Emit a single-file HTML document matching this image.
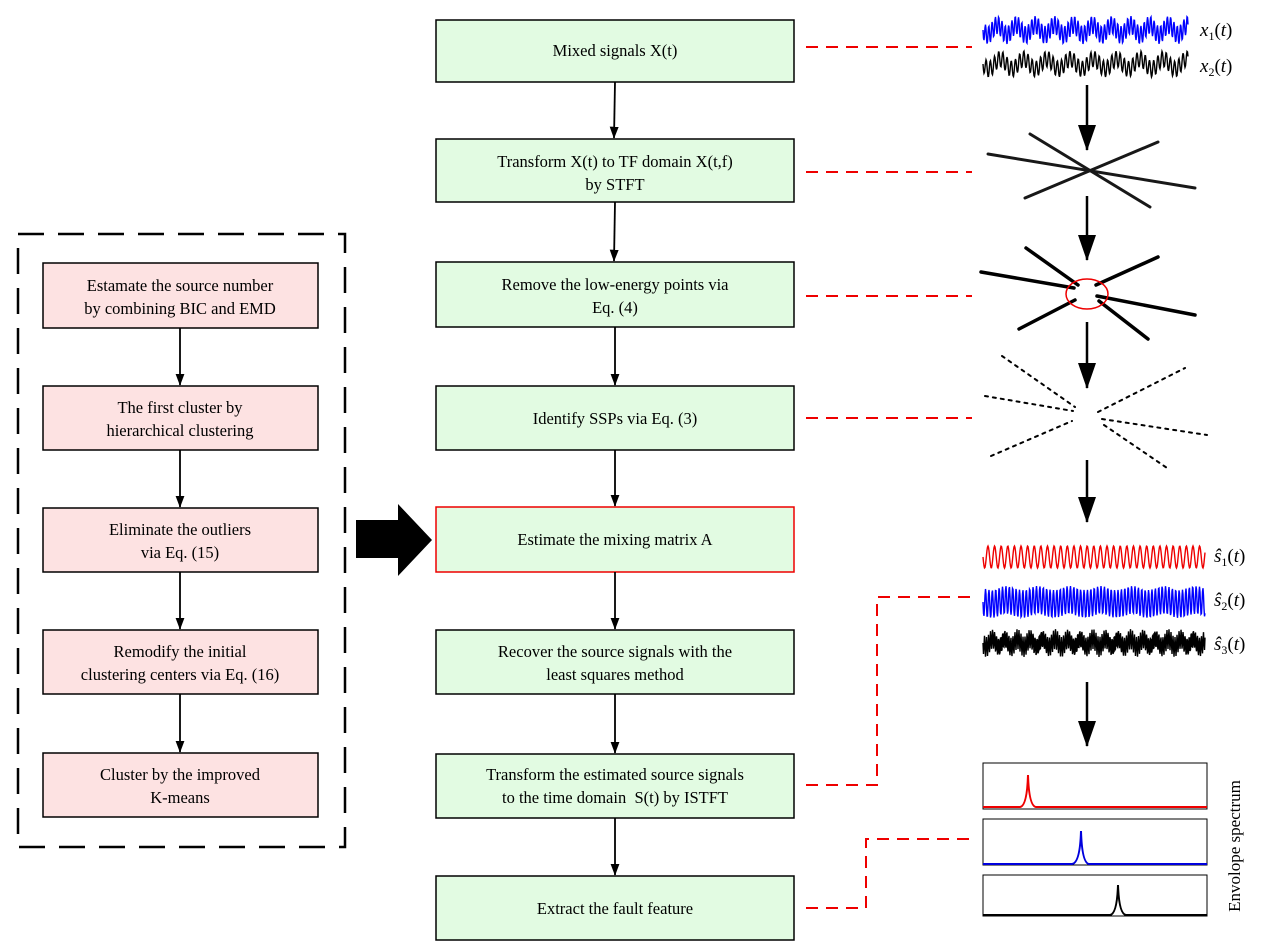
<!DOCTYPE html>
<html><head><meta charset="utf-8"><style>
body{margin:0;background:#fff;}
svg{display:block;font-family:"Liberation Serif",serif;}
</style></head><body>
<svg id="s" width="1263" height="951" viewBox="0 0 1263 951" xmlns="http://www.w3.org/2000/svg">
<defs><marker id="ah" markerWidth="12" markerHeight="16" refX="15" refY="6" orient="auto" markerUnits="userSpaceOnUse" viewBox="0 0 16 12"><path d="M0,0 L16,6 L0,12 z" fill="#000"/></marker>
<marker id="bh" markerWidth="26" markerHeight="18" refX="25" refY="9" orient="auto" markerUnits="userSpaceOnUse" viewBox="0 0 26 18"><path d="M0,0 L26,9 L0,18 z" fill="#000"/></marker></defs>
<g font-size="16.5" text-anchor="middle" fill="#000">
<g fill="#e2fbe2" stroke="#000" stroke-width="1.5">
<rect x="436" y="20" width="358" height="62"/>
<rect x="436" y="139" width="358" height="63"/>
<rect x="436" y="262" width="358" height="65"/>
<rect x="436" y="386" width="358" height="64"/>
<rect x="436" y="507" width="358" height="65" stroke="#e00"/>
<rect x="436" y="630" width="358" height="64"/>
<rect x="436" y="754" width="358" height="64"/>
<rect x="436" y="876" width="358" height="64"/>
</g>
<text x="615" y="56">Mixed signals X(t)</text>
<text x="615" y="167">Transform X(t) to TF domain X(t,f)</text><text x="615" y="190">by STFT</text>
<text x="615" y="290">Remove the low-energy points via</text><text x="615" y="313">Eq. (4)</text>
<text x="615" y="424">Identify SSPs via Eq. (3)</text>
<text x="615" y="545">Estimate the mixing matrix A</text>
<text x="615" y="657">Recover the source signals with the</text><text x="615" y="680">least squares method</text>
<text x="615" y="780">Transform the estimated source signals</text><text x="615" y="803">to the time domain&#160; S(t) by ISTFT</text>
<text x="615" y="914">Extract the fault feature</text>
<g fill="#fde2e2" stroke="#000" stroke-width="1.5">
<rect x="43" y="263" width="275" height="65"/>
<rect x="43" y="386" width="275" height="64"/>
<rect x="43" y="508" width="275" height="64"/>
<rect x="43" y="630" width="275" height="64"/>
<rect x="43" y="753" width="275" height="64"/>
</g>
<text x="180" y="291">Estamate the source number</text><text x="180" y="314">by combining BIC and EMD</text>
<text x="180" y="413">The first cluster by</text><text x="180" y="436">hierarchical clustering</text>
<text x="180" y="535">Eliminate the outliers</text><text x="180" y="558">via Eq. (15)</text>
<text x="180" y="657">Remodify the initial</text><text x="180" y="680">clustering centers via Eq. (16)</text>
<text x="180" y="780">Cluster by the improved</text><text x="180" y="803">K-means</text>
</g>
<rect x="18" y="234" width="327" height="613" fill="none" stroke="#000" stroke-width="2.5" stroke-dasharray="26,14"/>
<path d="M356,520 H398 V504 L432,540 L398,576 V558 H356 z" fill="#000"/>
<g stroke="#000" stroke-width="1.8" marker-end="url(#ah)">
<line x1="615" y1="82" x2="614" y2="138"/><line x1="615" y1="202" x2="614" y2="261"/>
<line x1="615" y1="327" x2="615" y2="385"/><line x1="615" y1="450" x2="615" y2="506"/>
<line x1="615" y1="572" x2="615" y2="629"/><line x1="615" y1="694" x2="615" y2="753"/>
<line x1="615" y1="818" x2="615" y2="875"/>
<line x1="180" y1="328" x2="180" y2="385"/><line x1="180" y1="450" x2="180" y2="507"/>
<line x1="180" y1="572" x2="180" y2="629"/><line x1="180" y1="694" x2="180" y2="752"/>
</g>
<g stroke="#000" stroke-width="2.5" marker-end="url(#bh)">
<line x1="1087" y1="85" x2="1087" y2="150"/><line x1="1087" y1="196" x2="1087" y2="260"/>
<line x1="1087" y1="322" x2="1087" y2="388"/><line x1="1087" y1="460" x2="1087" y2="522"/>
<line x1="1087" y1="682" x2="1087" y2="746"/>
</g>
<g stroke="#e00" stroke-width="2" fill="none" stroke-dasharray="12,8">
<line x1="806" y1="47" x2="972" y2="47"/><line x1="806" y1="172" x2="972" y2="172"/>
<line x1="806" y1="296" x2="972" y2="296"/><line x1="806" y1="418" x2="972" y2="418"/>
<path d="M806,785 H877 V597 H972"/><path d="M806,908 H866 V839 H972"/>
</g>
<g stroke="#000" stroke-width="3" stroke-linecap="round" opacity="0.9">
<line x1="988" y1="154" x2="1195" y2="188"/><line x1="1030" y1="134" x2="1150" y2="207"/><line x1="1025" y1="198" x2="1158" y2="142"/>
</g>
<g stroke="#000" stroke-width="3.5" stroke-linecap="round">
<line x1="981" y1="272" x2="1074" y2="288"/><line x1="1026" y1="248" x2="1078" y2="285"/><line x1="1019" y1="329" x2="1075" y2="300"/>
<line x1="1096" y1="285" x2="1158" y2="257"/><line x1="1097" y1="296" x2="1195" y2="315"/><line x1="1099" y1="301" x2="1148" y2="339"/>
</g>
<ellipse cx="1087" cy="294" rx="21" ry="15" fill="none" stroke="#e00" stroke-width="1.5"/>
<g stroke="#000" stroke-width="2" stroke-dasharray="3,5" stroke-linecap="round">
<line x1="1002" y1="356" x2="1075" y2="407"/><line x1="985" y1="396" x2="1073" y2="411"/><line x1="991" y1="456" x2="1072" y2="421"/>
<line x1="1098" y1="412" x2="1185" y2="368"/><line x1="1102" y1="419" x2="1207" y2="435"/><line x1="1104" y1="425" x2="1170" y2="470"/>
</g>
<g id="sig" fill="none" stroke-width="1.4"></g>
<g fill="none" stroke="#000" stroke-width="1">
<rect x="983" y="763" width="224" height="46"/><rect x="983" y="819" width="224" height="46"/><rect x="983" y="875" width="224" height="41"/>
</g>
<g fill="none" stroke-width="2">
<path d="M983,807 H1020 Q1027,806 1028,775 Q1029,806 1036,807 H1207" stroke="#e00"/>
<path d="M983,864 H1072 Q1080,863 1081,831 Q1082,863 1089,864 H1207" stroke="#00d"/>
<path d="M983,915 H1110 Q1117,914 1118,885 Q1119,914 1126,915 H1207" stroke="#000"/>
</g>
<text x="1240" y="846" font-size="17" text-anchor="middle" transform="rotate(-90 1240 846)">Envolope spectrum</text>
<g font-size="19" font-style="italic">
<text x="1200" y="36">x<tspan font-size="12" dy="4" font-style="normal">1</tspan><tspan dy="-4" font-style="normal">(</tspan>t<tspan font-style="normal">)</tspan></text>
<text x="1200" y="72">x<tspan font-size="12" dy="4" font-style="normal">2</tspan><tspan dy="-4" font-style="normal">(</tspan>t<tspan font-style="normal">)</tspan></text>
<text x="1214" y="562">ŝ<tspan font-size="12" dy="4" font-style="normal">1</tspan><tspan dy="-4" font-style="normal">(</tspan>t<tspan font-style="normal">)</tspan></text>
<text x="1214" y="606">ŝ<tspan font-size="12" dy="4" font-style="normal">2</tspan><tspan dy="-4" font-style="normal">(</tspan>t<tspan font-style="normal">)</tspan></text>
<text x="1214" y="650">ŝ<tspan font-size="12" dy="4" font-style="normal">3</tspan><tspan dy="-4" font-style="normal">(</tspan>t<tspan font-style="normal">)</tspan></text>
</g>
</svg>
<script>
(function(){
var g=document.getElementById('sig');
function add(x0,x1,yc,amp,f,col,f2,a2){var d='';for(var x=x0;x<=x1;x+=0.5){var t=x-x0;var y=yc+amp*Math.sin(t*f)+(a2?a2*Math.sin(t*f2):0);d+=(d?'L':'M')+x.toFixed(1)+','+y.toFixed(2);}
var p=document.createElementNS('http://www.w3.org/2000/svg','path');p.setAttribute('d',d);p.setAttribute('stroke',col);g.appendChild(p);}
add(983,1188,30,9,1.9,'#00f',0.33,5);
add(983,1188,64,8,1.5,'#000',0.27,5);
add(983,1205,557,11,0.95,'#e00');
add(983,1205,602,14,1.85,'#00f',0.2,2);
add(983,1205,643,10,3.1,'#000',0.5,4);
})();
</script>
</body></html>
